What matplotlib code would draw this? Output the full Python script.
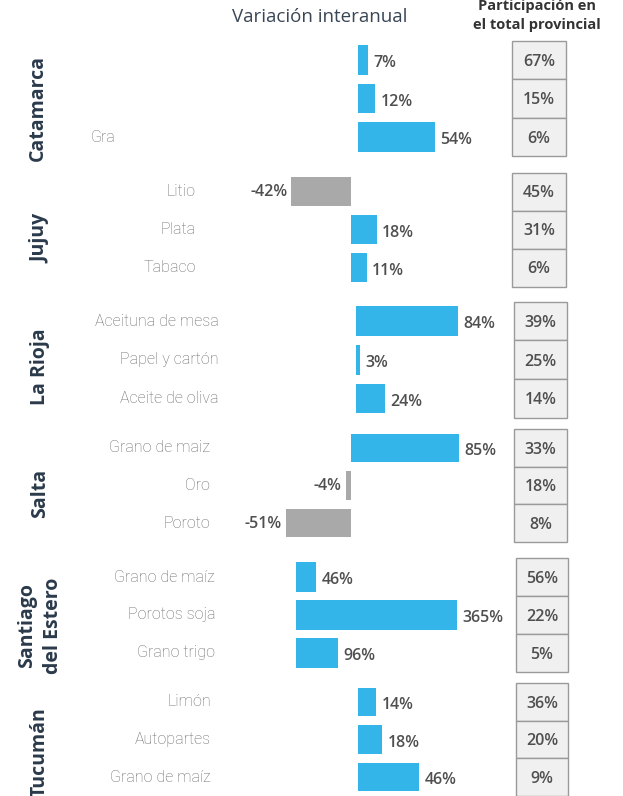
import matplotlib
matplotlib.use("Agg")
import matplotlib.pyplot as plt
from matplotlib.patches import Rectangle
from matplotlib.transforms import blended_transform_factory

# ---------------- data ----------------
provinces = ["Catamarca", "Jujuy", "La Rioja", "Salta", "Santiago\ndel Estero", "Tucumán"]
products = [
    ["", "", "Gra"],
    ["Litio", "Plata", "Tabaco"],
    ["Aceituna de mesa", "Papel y cartón", "Aceite de oliva"],
    ["Grano de maiz", "Oro", "Poroto"],
    ["Grano de maíz", "Porotos soja", "Grano trigo"],
    ["Limón", "Autopartes", "Grano de maíz"],
]
variacion = [
    [7, 12, 54],
    [-42, 18, 11],
    [84, 3, 24],
    [85, -4, -51],
    [46, 365, 96],
    [14, 18, 46],
]
participacion = [
    [67, 15, 6],
    [45, 31, 6],
    [39, 25, 14],
    [33, 18, 8],
    [56, 22, 5],
    [36, 20, 9],
]

# ---------------- layout (pixels) ----------------
W, H = 623, 796
fig = plt.figure(figsize=(W / 100, H / 100), dpi=100)
fig.patch.set_facecolor("white")

row_centers = [
    (60, 137), (191.5, 267.5), (321, 398.5), (448, 523), (577, 653), (702, 777)
]
baselines = [358, 351, 356, 350.7, 296, 357.7]     # px of the zero line per group
scales = [1.42, 1.42, 1.21, 1.27, 0.44, 1.34]      # px per percentage point
box_left = [512, 512, 514, 514, 516, 516]
box_right = [566, 566, 567, 567, 568, 568]
label_right = [116, 196, 219, 210, 215, 211]
prov_pos = [(38, 108), (40, 238), (40, 367), (40, 493), (40, 626), (40, 752)]

BLUE = "#33b5e9"
GRAY = "#a9a9a9"
VAL_COLOR = "#4f4f4f"
PROD_COLOR = "#6a6a6a"
PROV_COLOR = "#2b3a4b"

fam = ["Open Sans", "DejaVu Sans"]


def fx(x):
    return x / W


def fy(y):
    return 1 - y / H


for g in range(len(provinces)):
    c0, c2 = row_centers[g]
    sp = (c2 - c0) / 2
    top = c0 - sp / 2
    bot = c2 + sp / 2
    ax = fig.add_axes([0, fy(bot), 1, (bot - top) / H])
    b, s = baselines[g], scales[g]
    ax.set_xlim(-b / s, (W - b) / s)
    ax.set_ylim(2.5, -0.5)
    ax.axis("off")

    vals = variacion[g]
    ys = list(range(len(vals)))
    cols = [BLUE if v >= 0 else GRAY for v in vals]
    ax.barh(ys, vals, height=0.77, color=cols, left=0)

    for i, v in enumerate(vals):
        if v >= 0:
            ax.annotate(f"{v}%", (v, i), xytext=(4, -2.5), textcoords="offset points",
                        ha="left", va="center", fontsize=11.5, fontweight="semibold",
                        color=VAL_COLOR, family=fam)
        else:
            ax.annotate(f"{v}%", (v, i), xytext=(-3, -0.5), textcoords="offset points",
                        ha="right", va="center", fontsize=11.5, fontweight="semibold",
                        color=VAL_COLOR, family=fam)

    # participation boxes
    tr = blended_transform_factory(ax.transAxes, ax.transData)
    x0 = fx(box_left[g])
    wdt = fx(box_right[g]) - x0
    for i, p in enumerate(participacion[g]):
        ax.add_patch(Rectangle((x0, i - 0.5), wdt, 1, transform=tr,
                               facecolor="#f0f0f0", edgecolor="#9a9a9a", lw=1.0,
                               clip_on=False))
        ax.text(x0 + wdt / 2, i + 0.05, f"{p}%", transform=tr, ha="center", va="center",
                fontsize=11.5, fontweight="semibold", color=VAL_COLOR, family=fam)

    # product labels
    trl = blended_transform_factory(fig.transFigure, ax.transData)
    for i, name in enumerate(products[g]):
        if name:
            ax.text(fx(label_right[g]), i, name, transform=trl, ha="right", va="center",
                    fontsize=11.5, fontweight="light", color=PROD_COLOR,
                    family=["Roboto", "DejaVu Sans"])

    # province label
    px, py = prov_pos[g]
    fig.text(fx(px), fy(py), provinces[g], rotation=90, ha="center", va="center",
             fontsize=14, fontweight="bold", color=PROV_COLOR, family=fam,
             multialignment="center", linespacing=1.4)

# headers
fig.text(fx(320), fy(17), "Variación interanual", ha="center", va="center",
         fontsize=13.5, color="#3a4656", family=fam)
fig.text(fx(537), fy(6), "Participación en", ha="center", va="center",
         fontsize=10.5, fontweight="bold", color="#333333", family=fam)
fig.text(fx(537), fy(25), "el total provincial", ha="center", va="center",
         fontsize=10.5, fontweight="bold", color="#333333", family=fam)

fig.savefig("out.png", dpi=100, facecolor="white")
